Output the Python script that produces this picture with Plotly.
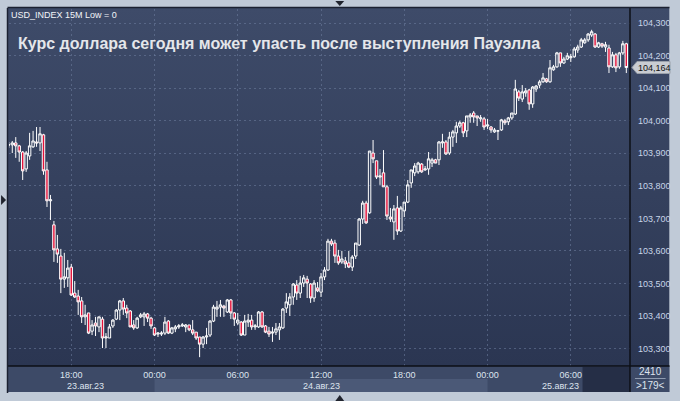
import base64
import pandas as pd
import plotly.graph_objects as go

# ---------------- data (USD_INDEX, 15M candles) ----------------
start_time = "2023-08-23 13:30"
n_bars = 179

open_ = [
103.926, 103.926, 103.932, 103.923, 103.904, 103.852, 103.892, 103.920, 103.935, 103.932,
103.957, 103.849, 103.754, 103.680, 103.606, 103.584, 103.513, 103.517, 103.550, 103.470,
103.461, 103.446, 103.397, 103.409, 103.353, 103.378, 103.366, 103.390, 103.332, 103.332,
103.369, 103.390, 103.418, 103.446, 103.424, 103.415, 103.372, 103.363, 103.397, 103.397,
103.406, 103.393, 103.363, 103.344, 103.344, 103.347, 103.384, 103.347, 103.360, 103.366,
103.369, 103.366, 103.372, 103.357, 103.350, 103.335, 103.313, 103.335, 103.341, 103.384,
103.421, 103.427, 103.430, 103.412, 103.449, 103.409, 103.378, 103.381, 103.341, 103.381,
103.387, 103.366, 103.366, 103.412, 103.369, 103.353, 103.347, 103.350, 103.357, 103.363,
103.424, 103.434, 103.458, 103.495, 103.470, 103.501, 103.513, 103.498, 103.455, 103.486,
103.473, 103.520, 103.541, 103.630, 103.624, 103.584, 103.566, 103.569, 103.563, 103.550,
103.584, 103.618, 103.698, 103.747, 103.717, 103.901, 103.877, 103.827, 103.840, 103.797,
103.704, 103.689, 103.732, 103.661, 103.723, 103.750, 103.809, 103.840, 103.843, 103.867,
103.849, 103.852, 103.870, 103.880, 103.880, 103.932, 103.935, 103.901, 103.950, 103.963,
103.984, 103.994, 103.969, 104.012, 104.024, 104.015, 104.006, 104.006, 103.984, 103.981,
103.966, 103.969, 103.972, 104.000, 103.997, 104.009, 104.021, 104.089, 104.067, 104.086,
104.095, 104.052, 104.098, 104.110, 104.120, 104.129, 104.120, 104.157, 104.166, 104.209,
104.178, 104.190, 104.194, 104.197, 104.218, 104.227, 104.240, 104.249, 104.264, 104.267,
104.227, 104.237, 104.227, 104.224, 104.166, 104.203, 104.166, 104.209, 104.237]

high = [
103.935, 103.938, 103.950, 103.926, 103.907, 103.907, 103.963, 103.969, 103.981, 103.981,
103.960, 103.874, 103.772, 103.692, 103.649, 103.606, 103.594, 103.572, 103.560, 103.507,
103.480, 103.458, 103.434, 103.409, 103.387, 103.397, 103.397, 103.397, 103.347, 103.375,
103.390, 103.421, 103.449, 103.455, 103.434, 103.418, 103.387, 103.397, 103.409, 103.412,
103.409, 103.397, 103.366, 103.350, 103.353, 103.397, 103.387, 103.366, 103.372, 103.375,
103.378, 103.375, 103.372, 103.387, 103.350, 103.335, 103.338, 103.363, 103.387, 103.434,
103.446, 103.449, 103.434, 103.452, 103.452, 103.412, 103.409, 103.384, 103.403, 103.406,
103.403, 103.375, 103.415, 103.415, 103.372, 103.366, 103.366, 103.378, 103.378, 103.424,
103.470, 103.470, 103.501, 103.510, 103.523, 103.526, 103.523, 103.501, 103.510, 103.504,
103.532, 103.550, 103.637, 103.637, 103.634, 103.603, 103.600, 103.581, 103.600, 103.587,
103.624, 103.701, 103.754, 103.754, 103.907, 103.941, 103.877, 103.852, 103.910, 103.803,
103.732, 103.741, 103.769, 103.738, 103.750, 103.818, 103.849, 103.870, 103.874, 103.870,
103.861, 103.904, 103.886, 103.883, 103.938, 103.960, 103.941, 103.966, 103.972, 103.997,
104.000, 103.997, 104.015, 104.024, 104.030, 104.015, 104.018, 104.012, 104.006, 103.984,
103.978, 103.972, 104.006, 104.006, 104.012, 104.024, 104.126, 104.095, 104.110, 104.101,
104.098, 104.107, 104.110, 104.126, 104.147, 104.132, 104.187, 104.172, 104.212, 104.209,
104.197, 104.209, 104.206, 104.227, 104.234, 104.255, 104.255, 104.270, 104.280, 104.270,
104.243, 104.240, 104.243, 104.234, 104.212, 104.209, 104.212, 104.246, 104.240]

low = [
103.917, 103.901, 103.886, 103.874, 103.818, 103.843, 103.880, 103.917, 103.920, 103.907,
103.834, 103.735, 103.695, 103.566, 103.563, 103.470, 103.486, 103.489, 103.461, 103.455,
103.403, 103.378, 103.372, 103.344, 103.341, 103.338, 103.350, 103.301, 103.301, 103.332,
103.363, 103.387, 103.387, 103.403, 103.393, 103.366, 103.357, 103.360, 103.393, 103.369,
103.381, 103.360, 103.338, 103.335, 103.338, 103.341, 103.344, 103.344, 103.350, 103.360,
103.366, 103.350, 103.353, 103.341, 103.326, 103.273, 103.301, 103.313, 103.335, 103.381,
103.397, 103.397, 103.397, 103.409, 103.390, 103.369, 103.372, 103.338, 103.341, 103.366,
103.357, 103.357, 103.363, 103.363, 103.347, 103.335, 103.320, 103.341, 103.326, 103.360,
103.409, 103.400, 103.434, 103.449, 103.455, 103.489, 103.455, 103.440, 103.443, 103.473,
103.458, 103.510, 103.538, 103.615, 103.563, 103.557, 103.560, 103.547, 103.547, 103.538,
103.575, 103.615, 103.683, 103.683, 103.714, 103.870, 103.821, 103.803, 103.797, 103.695,
103.689, 103.634, 103.649, 103.658, 103.704, 103.747, 103.794, 103.830, 103.837, 103.840,
103.846, 103.834, 103.858, 103.870, 103.864, 103.917, 103.895, 103.895, 103.920, 103.932,
103.978, 103.950, 103.950, 103.994, 103.994, 103.984, 103.997, 103.972, 103.975, 103.963,
103.963, 103.941, 103.969, 103.987, 103.987, 104.003, 104.018, 104.061, 104.058, 104.074,
104.034, 104.040, 104.089, 104.101, 104.117, 104.117, 104.117, 104.154, 104.163, 104.166,
104.175, 104.187, 104.181, 104.194, 104.209, 104.224, 104.237, 104.243, 104.258, 104.224,
104.224, 104.224, 104.212, 104.147, 104.163, 104.150, 104.160, 104.203, 104.147]

close = [
103.926, 103.932, 103.923, 103.904, 103.846, 103.901, 103.923, 103.938, 103.932, 103.960,
103.846, 103.754, 103.757, 103.603, 103.590, 103.513, 103.520, 103.547, 103.464, 103.458,
103.443, 103.397, 103.403, 103.347, 103.372, 103.369, 103.397, 103.332, 103.335, 103.366,
103.387, 103.418, 103.446, 103.421, 103.409, 103.366, 103.363, 103.393, 103.403, 103.406,
103.393, 103.369, 103.341, 103.347, 103.347, 103.381, 103.347, 103.363, 103.366, 103.369,
103.372, 103.372, 103.357, 103.347, 103.332, 103.313, 103.335, 103.338, 103.384, 103.427,
103.427, 103.434, 103.424, 103.449, 103.409, 103.390, 103.387, 103.341, 103.384, 103.387,
103.366, 103.369, 103.412, 103.366, 103.350, 103.344, 103.350, 103.360, 103.366, 103.421,
103.443, 103.458, 103.498, 103.470, 103.501, 103.517, 103.501, 103.455, 103.501, 103.477,
103.520, 103.541, 103.630, 103.621, 103.584, 103.563, 103.575, 103.560, 103.550, 103.581,
103.624, 103.698, 103.747, 103.686, 103.907, 103.883, 103.827, 103.830, 103.797, 103.707,
103.698, 103.729, 103.661, 103.732, 103.750, 103.803, 103.849, 103.861, 103.870, 103.843,
103.852, 103.883, 103.880, 103.870, 103.935, 103.935, 103.898, 103.950, 103.966, 103.984,
103.994, 103.963, 104.015, 104.018, 104.012, 104.009, 104.009, 103.981, 103.987, 103.972,
103.972, 103.969, 104.003, 103.994, 104.009, 104.024, 104.098, 104.070, 104.089, 104.092,
104.052, 104.104, 104.107, 104.120, 104.132, 104.120, 104.163, 104.166, 104.209, 104.178,
104.190, 104.200, 104.197, 104.221, 104.227, 104.249, 104.249, 104.267, 104.274, 104.227,
104.240, 104.230, 104.234, 104.166, 104.203, 104.163, 104.209, 104.237, 104.164]

y_ticks = [103.3, 103.4, 103.5, 103.6, 103.7, 103.8, 103.9, 104.0, 104.1, 104.2, 104.3]
y_tick_labels = ["103,300", "103,400", "103,500", "103,600", "103,700", "103,800",
                 "103,900", "104,000", "104,100", "104,200", "104,300"]
x_ticks = ["2023-08-23 18:00", "2023-08-24 00:00", "2023-08-24 06:00", "2023-08-24 12:00",
           "2023-08-24 18:00", "2023-08-25 00:00", "2023-08-25 06:00"]
x_tick_labels = ["18:00", "00:00", "06:00", "12:00", "18:00", "00:00", "06:00"]
date_labels = ["23.авг.23", "24.авг.23", "25.авг.23"]
date_label_pos = ["2023-08-23 19:00", "2023-08-24 12:00", "2023-08-25 05:15"]
x_range = ["2023-08-23 13:30:50", "2023-08-25 10:15:55"]
y_range = [103.2458, 104.344]

title_text = "Курс доллара сегодня может упасть после выступления Пауэлла"
symbol_text = "USD_INDEX 15M Low = 0"

# clamp wicks so they always enclose the body
high = [max(h, o, c) for h, o, c in zip(high, open_, close)]
low = [min(l, o, c) for l, o, c in zip(low, open_, close)]

times = pd.date_range(start_time, periods=n_bars, freq="15min")

# ---------------- figure ----------------
W, H = 680, 401
ML, MR, MT, MB = 9, 43, 9, 35
PW, PH = W - ML - MR, H - MT - MB


def px(xp):
    return (xp - ML) / PW


def py(yp):
    return (H - MB - yp) / PH


r0, r1 = pd.Timestamp(x_range[0]), pd.Timestamp(x_range[1])


def tpaper(t):
    return (pd.Timestamp(t) - r0) / (r1 - r0)


fig = go.Figure()
fig.add_trace(go.Candlestick(
    x=times, open=open_, high=high, low=low, close=close,
    increasing=dict(line=dict(color="#ffffff", width=1), fillcolor="rgba(0,0,0,0)"),
    decreasing=dict(line=dict(color="#ffffff", width=1), fillcolor="#e3123a"),
    whiskerwidth=0, showlegend=False, hoverinfo="skip",
))

grad_svg = ('<svg xmlns="http://www.w3.org/2000/svg" width="100" height="100" viewBox="0 0 100 100" '
            'preserveAspectRatio="none"><defs><linearGradient id="g" x1="0" y1="0" x2="0" y2="1">'
            '<stop offset="0" stop-color="#3e4b69"/><stop offset="1" stop-color="#2b3652"/>'
            '</linearGradient></defs><rect width="100" height="100" fill="url(#g)"/></svg>')
grad_src = "data:image/svg+xml;base64," + base64.b64encode(grad_svg.encode()).decode()

shapes = []
# bottom time strip (below layer so tick labels stay visible)
shapes.append(dict(type="rect", xref="paper", yref="paper", x0=px(8), x1=px(677), y0=py(392), y1=py(366),
                   fillcolor="#3d4a67", line=dict(width=0), layer="below"))
shapes.append(dict(type="rect", xref="paper", yref="paper", x0=tpaper("2023-08-24 00:00"),
                   x1=tpaper("2023-08-25 00:00"), y0=py(392), y1=py(379),
                   fillcolor="#4b5977", line=dict(width=0), layer="below"))
shapes.append(dict(type="rect", xref="paper", yref="paper", x0=px(589), x1=px(637), y0=py(392), y1=py(367),
                   fillcolor="#252e46", line=dict(width=0), layer="below"))
# separators
shapes.append(dict(type="line", xref="paper", yref="paper", x0=px(8), x1=px(677), y0=0, y1=0,
                   line=dict(color="#0d0f16", width=1.5)))
shapes.append(dict(type="line", xref="paper", yref="paper", x0=1, x1=1, y0=py(392), y1=py(8),
                   line=dict(color="#0d0f16", width=1.5)))
shapes.append(dict(type="line", xref="paper", yref="paper", x0=px(7.5), x1=px(7.5), y0=py(393), y1=py(8),
                   line=dict(color="#1b2131", width=1.5)))
shapes.append(dict(type="line", xref="paper", yref="paper", x0=px(7.5), x1=px(677), y0=py(7.5), y1=py(7.5),
                   line=dict(color="#1b2131", width=1.5)))
shapes.append(dict(type="line", xref="paper", yref="paper", x0=px(642), x1=px(673), y0=py(378.5), y1=py(378.5),
                   line=dict(color="#8f9bb0", width=1)))
# small frame markers
shapes.append(dict(type="path", xref="paper", yref="paper",
                   path=f"M {px(1)},{py(195)} L {px(6)},{py(200)} L {px(1)},{py(205)} Z",
                   fillcolor="#20242e", line=dict(width=0)))
shapes.append(dict(type="path", xref="paper", yref="paper",
                   path=f"M {px(339)},{py(1)} L {px(348)},{py(1)} L {px(343.5)},{py(6)} Z",
                   fillcolor="#20242e", line=dict(width=0)))
shapes.append(dict(type="path", xref="paper", yref="paper",
                   path=f"M {px(339)},{py(401)} L {px(348)},{py(401)} L {px(343.5)},{py(395)} Z",
                   fillcolor="#20242e", line=dict(width=0)))
# last price tag
shapes.append(dict(type="path", xref="paper", yref="y", xsizemode="pixel", ysizemode="pixel",
                   xanchor=1, yanchor=close[-1],
                   path="M 2,0 L 7,6 L 40,6 L 40,-6 L 7,-6 Z",
                   fillcolor="#c9ccd2", line=dict(color="#9aa0aa", width=1)))

annotations = [
    dict(text=symbol_text, xref="paper", yref="paper", x=px(9), y=py(15), xanchor="left", yanchor="middle",
         showarrow=False, font=dict(size=9, color="#f2f4f8")),
    dict(text=title_text, xref="paper", yref="paper", x=px(16), y=py(44), xanchor="left", yanchor="middle",
         showarrow=False, font=dict(size=16, color="#e4e6ea", weight="bold",
                                    family="Liberation Sans, Arial, sans-serif")),
    dict(text=f"{close[-1]:.3f}".replace(".", ","), xref="paper", yref="y", x=1, y=close[-1],
         xanchor="left", yanchor="middle", xshift=6, showarrow=False,
         font=dict(size=9, color="#111111")),
    dict(text="2410", xref="paper", yref="paper", x=px(658), y=py(371), xanchor="center", yanchor="middle",
         showarrow=False, font=dict(size=10, color="#dde4ee")),
    dict(text="&gt;179&lt;", xref="paper", yref="paper", x=px(658), y=py(385.5), xanchor="center",
         yanchor="middle", showarrow=False, font=dict(size=10, color="#dde4ee")),
]
for lab, pos in zip(date_labels, date_label_pos):
    annotations.append(dict(text=lab, xref="x", yref="paper", x=pos, y=py(385.5), xanchor="center",
                            yanchor="middle", showarrow=False, font=dict(size=9, color="#dde4ee")))

fig.update_layout(
    width=W, height=H, autosize=False,
    margin=dict(l=ML, r=MR, t=MT, b=MB, pad=0),
    paper_bgcolor="#c0cad7",
    plot_bgcolor="rgba(0,0,0,0)",
    font=dict(family="Liberation Sans, Arial, sans-serif", size=9, color="#dde4ee"),
    boxgap=0.3, boxgroupgap=0,
    images=[dict(source=grad_src, xref="paper", yref="paper", x=px(8), y=py(8),
                 sizex=px(677) - px(8), sizey=py(8) - py(366), xanchor="left", yanchor="top",
                 sizing="stretch", layer="below")],
    shapes=shapes,
    annotations=annotations,
    xaxis=dict(type="date", range=x_range, tickmode="array", tickvals=x_ticks, ticktext=x_tick_labels,
               tickfont=dict(size=9, color="#dde4ee"), showgrid=True, gridcolor="rgba(112,128,160,0.55)",
               griddash="2px,3px", gridwidth=1, zeroline=False, showline=False, ticks="",
               rangeslider=dict(visible=False), fixedrange=True, ticklabelstandoff=2),
    yaxis=dict(side="right", range=y_range, tickmode="array", tickvals=y_ticks, ticktext=y_tick_labels,
               tickfont=dict(size=9, color="#c8d5e8"), showgrid=True, gridcolor="rgba(112,128,160,0.55)",
               griddash="2px,3px", gridwidth=1, zeroline=False, showline=False, ticks="",
               fixedrange=True, ticklabelstandoff=7),
    hovermode=False,
)

fig.write_html("out.html", config={"displayModeBar": False},
               post_script="document.body.style.margin='0';document.body.style.overflow='hidden';")
